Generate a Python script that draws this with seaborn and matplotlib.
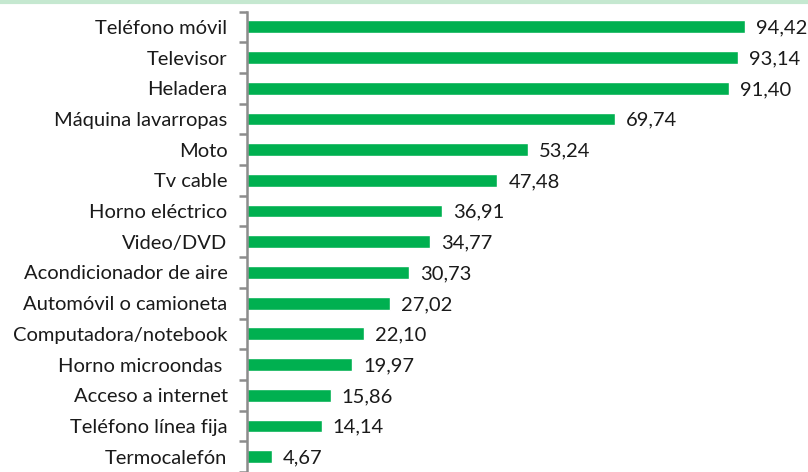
import matplotlib
matplotlib.use("Agg")
import matplotlib.pyplot as plt
import seaborn as sns
import pandas as pd
from matplotlib.lines import Line2D

categories = ["Teléfono móvil", "Televisor", "Heladera", "Máquina lavarropas", "Moto",
              "Tv cable", "Horno eléctrico", "Video/DVD", "Acondicionador de aire",
              "Automóvil o camioneta", "Computadora/notebook", "Horno microondas ",
              "Acceso a internet", "Teléfono línea fija", "Termocalefón"]
values = [94.42, 93.14, 91.40, 69.74, 53.24, 47.48, 36.91, 34.77, 30.73,
          27.02, 22.10, 19.97, 15.86, 14.14, 4.67]

df = pd.DataFrame({"cat": categories, "val": values})

sns.set_theme(style="white")
plt.rcParams['font.family'] = ['Lato', 'DejaVu Sans']

W, H = 808, 472
fig = plt.figure(figsize=(W / 100, H / 100), dpi=100)
ax_left = 247 / W
ax_top_px = 11.5
ax = fig.add_axes([ax_left, 0, 1 - ax_left, 1 - ax_top_px / H])

sns.barplot(data=df, x="val", y="cat", orient="h", color="#00B050",
            saturation=1, width=0.42, ax=ax, order=categories)

xmax = (W - 247) / 5.274
ax.set_xlim(0, xmax)
bottom = (472 - 27) / 30.93
ax.set_ylim(bottom, -0.5)

for i, v in enumerate(values):
    ax.text(v + 2.1, i + 0.04, f"{v:.2f}".replace(".", ","), va="center", ha="left",
            fontsize=14.5, color="#1a1a1a")

ax.set_xlabel("")
ax.set_ylabel("")
ax.set_xticks([])
for s in ["top", "right", "bottom"]:
    ax.spines[s].set_visible(False)
ax.spines["left"].set_color("#8c8c8c")
ax.spines["left"].set_linewidth(1.8)

ax.set_yticks(range(len(categories)))
ax.set_yticklabels(categories, fontsize=14.5, color="#1a1a1a")
ax.tick_params(axis="y", which="major", length=0, pad=14)
ax.set_yticks([i - 0.5 for i in range(len(categories) + 1)], minor=True)
ax.tick_params(axis="y", which="minor", length=6, width=1.8, color="#8c8c8c", left=True)

fig.add_artist(Line2D([0, 1], [1 - 1.5 / H, 1 - 1.5 / H], transform=fig.transFigure,
                      color="#c5e8d0", linewidth=3))

fig.savefig("out.png", dpi=100)
